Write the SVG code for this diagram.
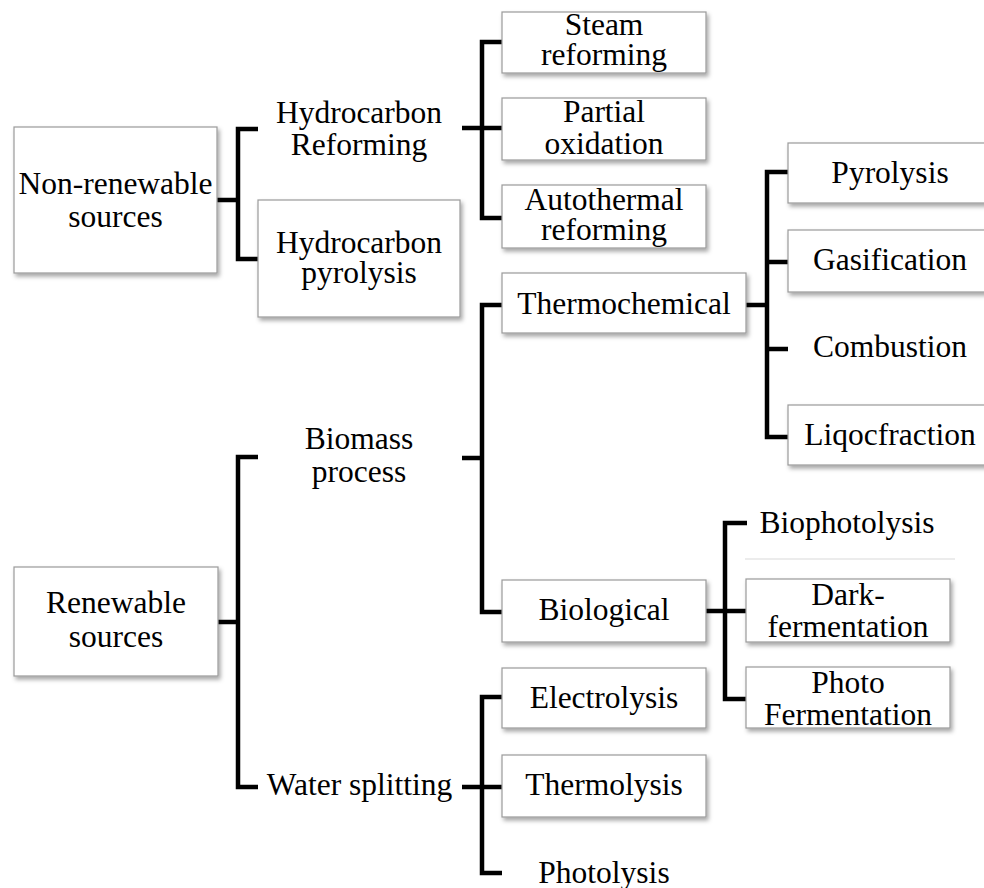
<svg xmlns="http://www.w3.org/2000/svg" width="984" height="888" viewBox="0 0 984 888">
<defs>
<filter id="sh" x="-10%" y="-10%" width="130%" height="140%">
<feDropShadow dx="2" dy="3" stdDeviation="2" flood-color="#000" flood-opacity="0.35"/>
</filter>
</defs>
<style>
.box{fill:#fff;stroke:#9a9a9a;stroke-width:1.2;filter:url(#sh)}
text{font-family:"Liberation Serif","Times New Roman",serif;font-size:31.5px;fill:#000;text-anchor:middle}
.con path{fill:none;stroke:#000;stroke-width:4.5}
</style>
<rect width="984" height="888" fill="#fff"/>
<g class="con" id="connectors">
<path d="M217 200H238M258 129H238V259H258"/>
<path d="M462 128H502M502 42H482V218H502"/>
<path d="M746 305H767M788 172H767V437H788M767 262H788M767 349H788"/>
<path d="M462 458H482M502 305H482V612H502"/>
<path d="M218 622H238M258 457H238V787H258"/>
<path d="M462 787H502M502 697H482V873H502"/>
<path d="M706 611H747M747 523H725V699H747"/>
</g>
<line x1="745" y1="559" x2="955" y2="559" stroke="#ececec" stroke-width="2"/>
<g id="nonrenewable"><rect class="box" x="14" y="127" width="203" height="146"/><text x="115.5" y="194">Non-renewable</text><text x="115.5" y="227">sources</text></g>
<g id="hc-reforming"><text x="359" y="123">Hydrocarbon</text><text x="359" y="155">Reforming</text></g>
<g id="hc-pyrolysis"><rect class="box" x="258" y="200" width="202" height="117"/><text x="359" y="253">Hydrocarbon</text><text x="359" y="283">pyrolysis</text></g>
<g id="steam"><rect class="box" x="502" y="12" width="204" height="61"/><text x="604" y="35">Steam</text><text x="604" y="65">reforming</text></g>
<g id="partial"><rect class="box" x="502" y="98" width="204" height="62"/><text x="604" y="122">Partial</text><text x="604" y="154">oxidation</text></g>
<g id="autothermal"><rect class="box" x="502" y="185" width="204" height="63"/><text x="604" y="210">Autothermal</text><text x="604" y="240">reforming</text></g>
<g id="thermochemical"><rect class="box" x="502" y="273" width="244" height="60"/><text x="624" y="314">Thermochemical</text></g>
<g id="pyrolysis"><rect class="box" x="788" y="143" width="204" height="60"/><text x="890" y="183">Pyrolysis</text></g>
<g id="gasification"><rect class="box" x="788" y="230" width="204" height="62"/><text x="890" y="270">Gasification</text></g>
<g id="combustion"><text x="890" y="357">Combustion</text></g>
<g id="liqocfraction"><rect class="box" x="788" y="405" width="204" height="60"/><text x="890" y="445">Liqocfraction</text></g>
<g id="biomass"><text x="359" y="449">Biomass</text><text x="359" y="482">process</text></g>
<g id="biological"><rect class="box" x="502" y="580" width="204" height="62"/><text x="604" y="620">Biological</text></g>
<g id="biophotolysis"><text x="847" y="533">Biophotolysis</text></g>
<g id="dark"><rect class="box" x="746" y="579" width="204" height="63"/><text x="848" y="605">Dark-</text><text x="848" y="637">fermentation</text></g>
<g id="photofermentation"><rect class="box" x="746" y="667" width="204" height="61"/><text x="848" y="693">Photo</text><text x="848" y="725">Fermentation</text></g>
<g id="renewable"><rect class="box" x="14" y="567" width="204" height="109"/><text x="116" y="613">Renewable</text><text x="116" y="647">sources</text></g>
<g id="water"><text x="359.5" y="795">Water splitting</text></g>
<g id="electrolysis"><rect class="box" x="502" y="668" width="204" height="60"/><text x="604" y="708">Electrolysis</text></g>
<g id="thermolysis"><rect class="box" x="502" y="755" width="204" height="62"/><text x="604" y="795">Thermolysis</text></g>
<g id="photolysis"><text x="604" y="883">Photolysis</text></g>
</svg>
